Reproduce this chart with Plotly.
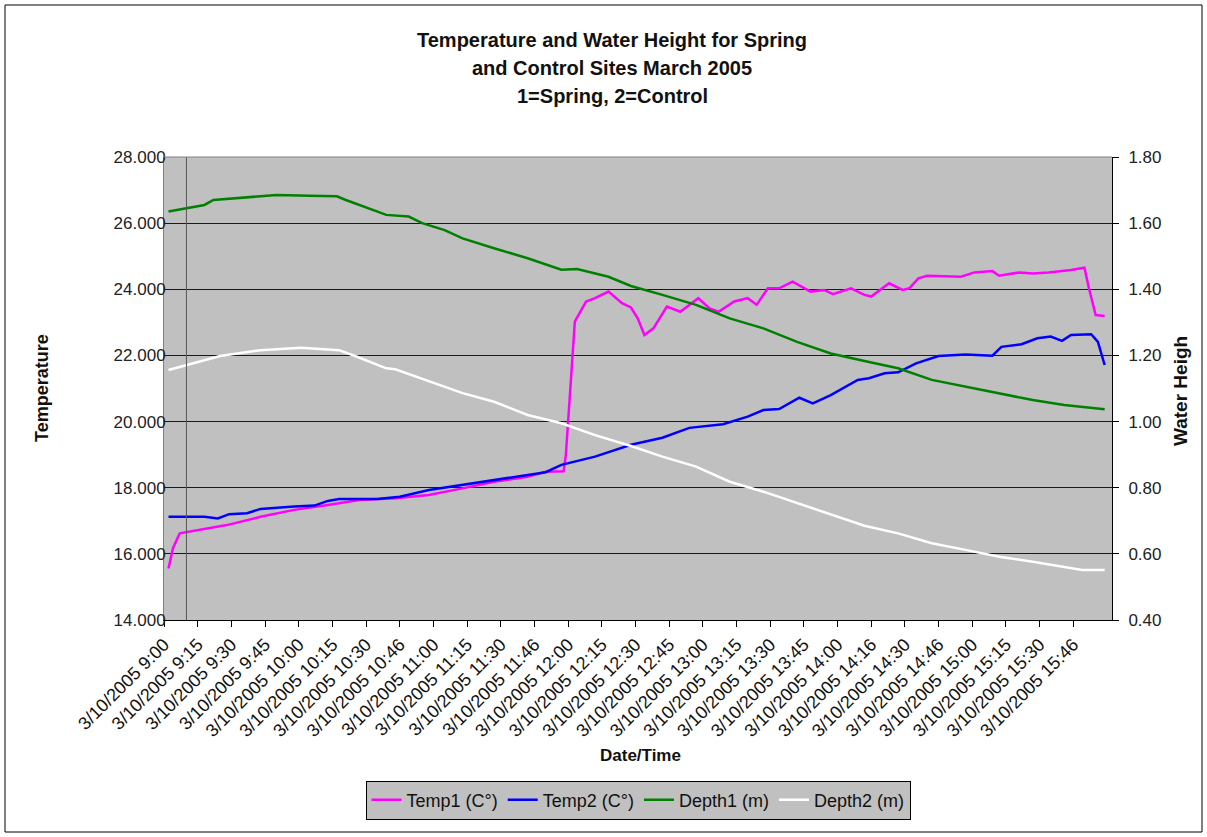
import plotly.graph_objects as go

# ---------------- data (minutes after 3/10/2005 9:00) ----------------
tick_labels = ["3/10/2005 9:00", "3/10/2005 9:15", "3/10/2005 9:30", "3/10/2005 9:45",
               "3/10/2005 10:00", "3/10/2005 10:15", "3/10/2005 10:30", "3/10/2005 10:46",
               "3/10/2005 11:00", "3/10/2005 11:15", "3/10/2005 11:30", "3/10/2005 11:46",
               "3/10/2005 12:00", "3/10/2005 12:15", "3/10/2005 12:30", "3/10/2005 12:45",
               "3/10/2005 13:00", "3/10/2005 13:15", "3/10/2005 13:30", "3/10/2005 13:45",
               "3/10/2005 14:00", "3/10/2005 14:16", "3/10/2005 14:30", "3/10/2005 14:46",
               "3/10/2005 15:00", "3/10/2005 15:15", "3/10/2005 15:30", "3/10/2005 15:46"]
tick_minutes = [i * 15 for i in range(len(tick_labels))]

temp1_min = [2, 4, 7, 16, 28, 43, 58, 73, 87, 103, 118, 133, 147, 162, 170, 178, 179, 181, 183,
             188, 192, 198, 204, 208, 211, 214, 218, 224, 230, 238, 243, 247, 254, 260, 264,
             269, 274, 280, 288, 294, 298, 306, 312, 315, 323, 329, 332, 336, 340, 355, 361,
             369, 372, 381, 387, 394, 404, 410, 412, 415, 419]
temp1 = [15.56, 16.17, 16.62, 16.72, 16.87, 17.12, 17.33, 17.48, 17.63, 17.68, 17.78, 17.98,
         18.18, 18.33, 18.48, 18.50, 18.99, 21.0, 23.02, 23.63, 23.73, 23.93, 23.58, 23.45,
         23.12, 22.62, 22.82, 23.48, 23.32, 23.73, 23.42, 23.32, 23.63, 23.73, 23.53, 24.03,
         24.03, 24.23, 23.93, 23.98, 23.85, 24.03, 23.83, 23.78, 24.18, 23.98, 24.03, 24.33,
         24.41, 24.38, 24.51, 24.55, 24.41, 24.51, 24.48, 24.51, 24.58, 24.65, 24.03, 23.22,
         23.19]

temp2_min = [2, 18, 24, 29, 37, 43, 58, 67, 73, 78, 95, 105, 118, 133, 147, 162, 170, 177, 192,
             208, 222, 234, 249, 260, 267, 274, 283, 289, 297, 309, 314, 321, 327, 335, 345,
             357, 369, 373, 382, 389, 395, 400, 404, 413, 416, 419]
temp2 = [17.12, 17.12, 17.07, 17.20, 17.23, 17.36, 17.43, 17.46, 17.60, 17.66, 17.66, 17.73,
         17.93, 18.08, 18.23, 18.38, 18.47, 18.69, 18.94, 19.30, 19.51, 19.81, 19.92, 20.15,
         20.35, 20.38, 20.72, 20.55, 20.80, 21.26, 21.31, 21.46, 21.49, 21.76, 21.98, 22.03,
         21.99, 22.26, 22.34, 22.52, 22.57, 22.44, 22.62, 22.64, 22.41, 21.71]

depth1_min = [2, 18, 22, 37, 50, 65, 77, 81, 87, 99, 109, 115, 125, 133, 147, 162, 177, 184,
              198, 208, 222, 237, 252, 267, 282, 297, 312, 327, 342, 357, 372, 387, 401, 419]
depth1 = [1.635, 1.655, 1.67, 1.678, 1.685, 1.683, 1.681, 1.67, 1.655, 1.625, 1.62, 1.60,
          1.579, 1.554, 1.524, 1.494, 1.459, 1.461, 1.438, 1.41, 1.383, 1.353, 1.312, 1.282,
          1.241, 1.206, 1.183, 1.161, 1.126, 1.106, 1.086, 1.065, 1.05, 1.037]

depth2_min = [2, 13, 25, 43, 61, 73, 78, 86, 99, 103, 118, 133, 147, 162, 177, 192, 208, 222,
              237, 252, 267, 282, 297, 312, 327, 342, 357, 372, 387, 401, 409, 419]
depth2 = [1.156, 1.176, 1.198, 1.216, 1.223, 1.218, 1.216, 1.196, 1.161, 1.158, 1.121, 1.086,
          1.06, 1.02, 0.995, 0.959, 0.926, 0.894, 0.864, 0.818, 0.788, 0.753, 0.718, 0.685,
          0.662, 0.632, 0.612, 0.591, 0.576, 0.561, 0.551, 0.551]

marker_minute = 10

# ---------------- figure ----------------
FONT = "Liberation Sans, Arial, sans-serif"
TXT = "#111111"
fig = go.Figure()
fig.add_trace(go.Scatter(x=temp1_min, y=temp1, name="Temp1 (C°)", mode="lines",
                         line=dict(color="#FF00FF", width=2.5)))
fig.add_trace(go.Scatter(x=temp2_min, y=temp2, name="Temp2 (C°)", mode="lines",
                         line=dict(color="#0000FF", width=2.5)))
fig.add_trace(go.Scatter(x=depth1_min, y=depth1, name="Depth1 (m)", mode="lines",
                         line=dict(color="#008000", width=2.5), yaxis="y2"))
fig.add_trace(go.Scatter(x=depth2_min, y=depth2, name="Depth2 (m)", mode="lines",
                         line=dict(color="#FFFFFF", width=2.5), yaxis="y2"))

L, R, T, B = 164, 1112, 157, 620
W, H = 1207, 837
pw, ph = R - L, B - T


def px(x):
    return (x - L) / pw


def py(y):
    return (B - y) / ph


fig.update_layout(
    width=W, height=H,
    margin=dict(l=L, r=W - R, t=T, b=H - B, autoexpand=False),
    paper_bgcolor="white", plot_bgcolor="#C0C0C0",
    font=dict(family=FONT, color=TXT),
    showlegend=True,
    legend=dict(orientation="h", x=0.5, xanchor="center", y=py(800), yanchor="middle",
                bgcolor="#C0C0C0", bordercolor="#000000", borderwidth=1,
                font=dict(size=18, family=FONT, color=TXT),
                itemwidth=30, tracegroupgap=0),
    xaxis=dict(range=[0, pw / 2.245], tickmode="array", tickvals=tick_minutes,
               ticktext=tick_labels, tickangle=-45, ticks="outside", ticklen=6,
               tickcolor="#000", showgrid=False, zeroline=False, showline=True,
               linecolor="#000", linewidth=1,
               tickfont=dict(size=18, family=FONT, color=TXT)),
    yaxis=dict(range=[14, 28], dtick=2, tick0=14, tickformat=".3f", ticks="",
               ticklabelstandoff=-6,
               showgrid=True, gridcolor="#1a1a1a",
               gridwidth=1, zeroline=False, showline=True, linecolor="#808080",
               tickfont=dict(size=17, family=FONT, color="#222222")),
    yaxis2=dict(range=[0.4, 1.8], dtick=0.2, tick0=0.4, tickformat=".2f", overlaying="y",
                side="right", ticks="outside", ticklen=6, tickcolor="#000",
                ticklabelstandoff=6,
                showgrid=False, zeroline=False, showline=True, linecolor="#000",
                tickfont=dict(size=17, family=FONT, color="#222222")),
)

# vertical reference line inside plot
fig.add_shape(type="line", xref="x", yref="paper", x0=marker_minute, x1=marker_minute,
              y0=0, y1=1, line=dict(color="#555555", width=1))
# top border of plot area
fig.add_shape(type="line", xref="paper", yref="paper", x0=0, x1=1, y0=1, y1=1,
              line=dict(color="#808080", width=1))
# outer chart border
fig.add_shape(type="rect", xref="paper", yref="paper", x0=px(5), x1=px(1202),
              y0=py(832), y1=py(5), line=dict(color="#000000", width=1))

title_lines = ["Temperature and Water Height for Spring",
               "and Control Sites March 2005",
               "1=Spring, 2=Control"]
for i, t in enumerate(title_lines):
    fig.add_annotation(text="<b>%s</b>" % t, xref="paper", yref="paper", x=px(612),
                       y=py(40 + 28 * i), showarrow=False, xanchor="center",
                       yanchor="middle", font=dict(size=20, family=FONT, color=TXT))

fig.add_annotation(text="<b>Temperature</b>", xref="paper", yref="paper", x=px(42),
                   y=py(388), textangle=-90, showarrow=False, xanchor="center",
                   yanchor="middle", font=dict(size=18, family=FONT, color=TXT))
fig.add_annotation(text="<b>Water Heigh</b>", xref="paper", yref="paper", x=px(1180),
                   y=py(391), textangle=-90, showarrow=False, xanchor="center",
                   yanchor="middle", font=dict(size=19, family=FONT, color=TXT))
fig.add_annotation(text="<b>Date/Time</b>", xref="paper", yref="paper", x=px(640),
                   y=py(755), showarrow=False, xanchor="center", yanchor="middle",
                   font=dict(size=17, family=FONT, color=TXT))

fig.write_html("out.html", config={"displayModeBar": False},
               post_script="document.body.style.margin='0';")
